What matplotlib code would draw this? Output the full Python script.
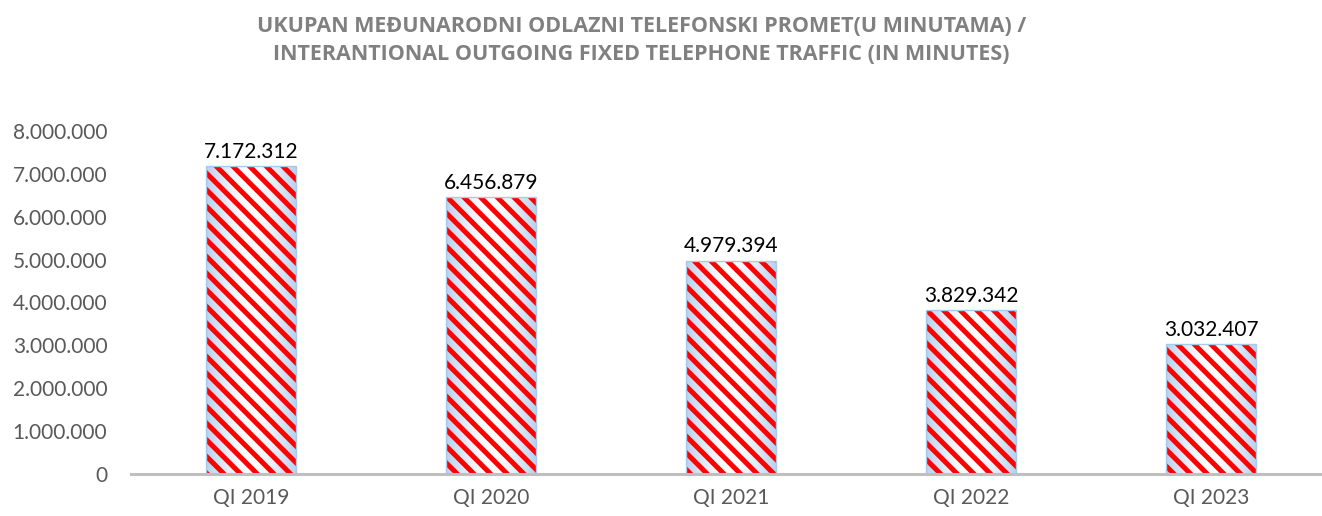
import matplotlib
matplotlib.use("Agg")
import matplotlib.pyplot as plt
import numpy as np

categories = ["QI 2019", "QI 2020", "QI 2021", "QI 2022", "QI 2023"]
values = [7172312, 6456879, 4979394, 3829342, 3032407]
value_labels = ["7.172.312", "6.456.879", "4.979.394", "3.829.342", "3.032.407"]
y_ticks = [0, 1000000, 2000000, 3000000, 4000000, 5000000, 6000000, 7000000, 8000000]
y_tick_labels = ["0", "1.000.000", "2.000.000", "3.000.000", "4.000.000",
                 "5.000.000", "6.000.000", "7.000.000", "8.000.000"]
title_line1 = "UKUPAN MEĐUNARODNI ODLAZNI TELEFONSKI PROMET(U MINUTAMA) /"
title_line2 = "INTERANTIONAL OUTGOING FIXED TELEPHONE TRAFFIC (IN MINUTES)"

plt.rcParams['font.family'] = ['Lato', 'DejaVu Sans']
plt.rcParams['hatch.linewidth'] = 3.6
plt.rcParams['hatch.color'] = '#FF0000'

fig = plt.figure(figsize=(13.22, 5.16), dpi=100)
ax = fig.add_axes([131 / 1322, 42 / 516, 1200 / 1322, 343 / 516])

x = np.arange(len(categories))
width = 0.375

# gradient background bars
outline = ax.bar(x, values, width=width, facecolor='none', edgecolor='#A9C8EA',
                 linewidth=1.0, zorder=4)
grad = np.abs(np.linspace(-1, 1, 200)) ** 1.5
cmap = matplotlib.colors.LinearSegmentedColormap.from_list('g', ['#FFFFFF', '#B8D2EF'])
for b in outline:
    bx, by = b.get_x(), b.get_y()
    bw, bh = b.get_width(), b.get_height()
    im = ax.imshow(grad[np.newaxis, :], extent=(bx, bx + bw, by, by + bh),
                   cmap=cmap, aspect='auto', zorder=2, interpolation='bilinear',
                   vmin=0, vmax=1)
    im.set_clip_path(b)

# hatch overlay
ax.bar(x, values, width=width, facecolor='none', edgecolor='#FF0000',
       hatch='\\\\', linewidth=0, zorder=3)

ax.set_xlim(-0.5, len(categories) - 0.5)
ax.set_ylim(0, 8000000)
ax.set_yticks(y_ticks)
ax.set_yticklabels(y_tick_labels)
ax.set_xticks(x)
ax.set_xticklabels(categories)
ax.tick_params(axis='y', length=0, pad=17, labelsize=15, labelcolor='#595959')
ax.tick_params(axis='x', length=0, pad=10, labelsize=15, labelcolor='#595959')

for s in ['top', 'right', 'left']:
    ax.spines[s].set_visible(False)
ax.spines['bottom'].set_color('#BFBFBF')
ax.spines['bottom'].set_linewidth(2.2)
ax.spines['bottom'].set_zorder(5)
ax.patch.set_alpha(0)

for xi, v, lab in zip(x, values, value_labels):
    ax.annotate(lab, (xi, v), xytext=(0, 3), textcoords='offset points',
                ha='center', va='bottom', fontsize=15, color='#000000')

fig.text(0.485, 1 - 27 / 516, title_line1, ha='center', va='center',
         fontsize=15.5, fontweight='bold', color='#808080',
         family=['Open Sans', 'DejaVu Sans'])
fig.text(0.485, 1 - 55 / 516, title_line2, ha='center', va='center',
         fontsize=15.5, fontweight='bold', color='#808080',
         family=['Open Sans', 'DejaVu Sans'])

fig.savefig('out.png', dpi=100)
